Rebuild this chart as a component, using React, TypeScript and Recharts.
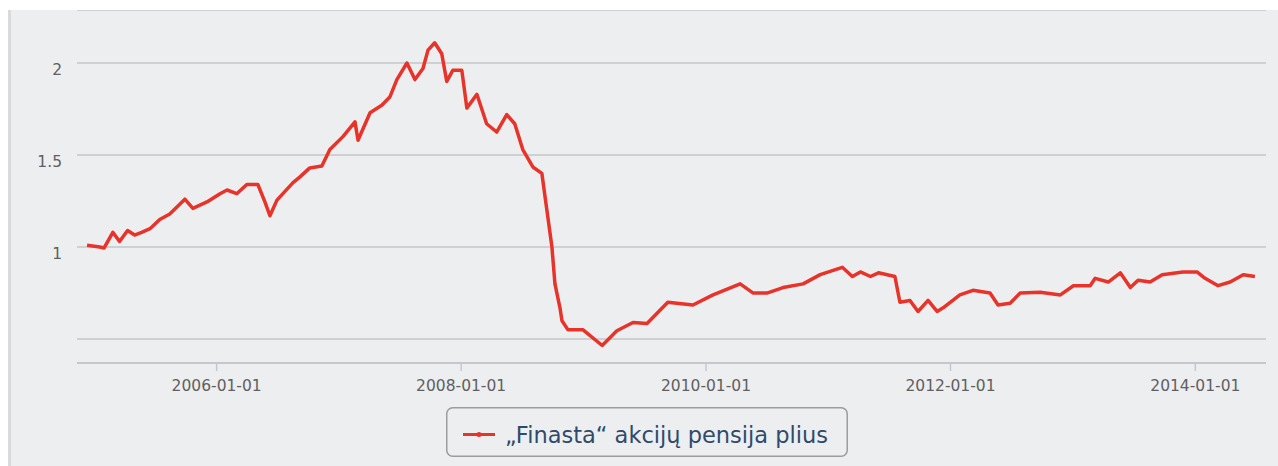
import { LineChart, Line, XAxis, YAxis, CartesianGrid, Legend } from "recharts";

const RED = "#e8332a";
const GRID = "#cfd0d2";
const AXIS_LINE = "#c4c8ce";
const LABEL = "#606060";
const FONT = "DejaVu Sans, Verdana, sans-serif";

const SERIES_NAME = "„Finasta“ akcijų pensija plius";

const DATES = [
  "2004-12-10", "2005-01-17", "2005-01-30", "2005-02-25", "2005-03-17", "2005-04-10",
  "2005-05-01", "2005-05-22", "2005-06-16", "2005-07-15", "2005-08-14", "2005-09-28",
  "2005-10-22", "2005-12-03", "2006-01-11", "2006-02-01", "2006-03-02", "2006-04-01",
  "2006-05-04", "2006-05-25", "2006-06-09", "2006-06-30", "2006-08-17", "2006-09-06",
  "2006-10-06", "2006-11-11", "2006-12-05", "2007-01-13", "2007-02-18", "2007-02-27",
  "2007-04-04", "2007-05-09", "2007-06-02", "2007-06-23", "2007-07-23", "2007-08-16",
  "2007-09-09", "2007-09-24", "2007-10-14", "2007-11-04", "2007-11-19", "2007-12-07",
  "2008-01-03", "2008-01-18", "2008-02-17", "2008-03-17", "2008-04-16", "2008-05-16",
  "2008-06-09", "2008-07-03", "2008-08-02", "2008-08-29", "2008-09-13", "2008-09-28",
  "2008-10-07", "2008-10-22", "2008-10-28", "2008-11-15", "2008-12-30", "2009-02-25",
  "2009-04-10", "2009-05-28", "2009-07-09", "2009-09-09", "2009-11-23", "2010-01-22",
  "2010-04-13", "2010-05-22", "2010-07-02", "2010-08-19", "2010-10-18", "2010-12-08",
  "2011-02-12", "2011-03-14", "2011-04-07", "2011-05-07", "2011-05-31", "2011-07-19",
  "2011-08-03", "2011-09-02", "2011-09-26", "2011-10-26", "2011-11-22", "2011-12-10",
  "2012-01-29", "2012-03-08", "2012-04-28", "2012-05-22", "2012-06-27", "2012-07-27",
  "2012-09-25", "2012-11-24", "2013-01-02", "2013-02-21", "2013-03-08", "2013-04-16",
  "2013-05-22", "2013-06-21", "2013-07-14", "2013-08-19", "2013-09-24", "2013-11-25",
  "2014-01-06", "2014-01-30", "2014-03-10", "2014-04-15", "2014-05-24", "2014-06-28",
];

const VALUES = [
  1.01, 1.0, 0.995, 1.08, 1.03, 1.09,
  1.065, 1.08, 1.1, 1.15, 1.18, 1.26,
  1.21, 1.245, 1.29, 1.31, 1.29, 1.34,
  1.34, 1.245, 1.17, 1.255, 1.35, 1.38,
  1.43, 1.44, 1.53, 1.6, 1.68, 1.58,
  1.73, 1.77, 1.815, 1.91, 2.0, 1.91,
  1.97, 2.07, 2.11, 2.05, 1.9, 1.96,
  1.96, 1.755, 1.83, 1.67, 1.625, 1.72,
  1.67, 1.53, 1.435, 1.4, 1.2, 1.0,
  0.8, 0.67, 0.6, 0.55, 0.55, 0.465,
  0.545, 0.59, 0.585, 0.7, 0.685, 0.74,
  0.8, 0.75, 0.75, 0.78, 0.8, 0.85,
  0.89, 0.84, 0.865, 0.84, 0.86, 0.84,
  0.7, 0.71, 0.65, 0.71, 0.65, 0.67,
  0.74, 0.765, 0.75, 0.685, 0.695, 0.75,
  0.755, 0.74, 0.79, 0.79, 0.83, 0.81,
  0.86, 0.78, 0.82, 0.81, 0.85, 0.865,
  0.865, 0.83, 0.79, 0.81, 0.85, 0.84,
];

const X_TICKS = ["2006-01-01", "2008-01-01", "2010-01-01", "2012-01-01", "2014-01-01"];
const X_DOMAIN = ["2004-11-10", "2014-07-31"];
const Y_TICKS = [0.5, 1, 1.5, 2];
const Y_DOMAIN = [0.37, 2.288];

const toTime = (d: string) => Date.parse(d + "T00:00:00Z");
const fmtDate = (t: number) => new Date(t).toISOString().slice(0, 10);

const data = DATES.map((d, i) => ({ t: toTime(d), v: VALUES[i] }));

function YTick({ x, y, payload }: any) {
  if (payload.value === 0.5) return null;
  return (
    <text x={x} y={y + 12} textAnchor="end" fill={LABEL} fontSize={15.5} fontFamily={FONT}>
      {payload.value}
    </text>
  );
}

function XTick({ x, y, payload }: any) {
  return (
    <text x={x} y={y + 19.5} textAnchor="middle" fill={LABEL} fontSize={15.5} fontFamily={FONT}>
      {fmtDate(payload.value)}
    </text>
  );
}

function LegendBox() {
  return (
    <div style={{ height: 50, paddingLeft: 435 }}>
      <svg width={402} height={50} style={{ display: "block" }}>
        <rect x={0.75} y={0.75} width={400.5} height={48.5} rx={6} fill="none" stroke="#9c9c9c" strokeWidth={1.5} />
        <line x1={17} x2={49} y1={27.5} y2={27.5} stroke={RED} strokeWidth={3} />
        <circle cx={33} cy={27.5} r={2.5} fill={RED} />
        <text x={59} y={36} fontSize={22.5} fontFamily={FONT} fill="#2f4b6b">
          {SERIES_NAME}
        </text>
      </svg>
    </div>
  );
}

export default function App() {
  return (
    <div style={{ position: "relative", width: 1278, height: 466, background: "#fff", overflow: "hidden" }}>
      <style>{"body{margin:0}"}</style>
      <div
        style={{
          position: "absolute",
          left: 8,
          top: 10,
          width: 1270,
          height: 456,
          background: "#edeef0",
          borderLeft: "3px solid #d9dadc",
          boxSizing: "border-box",
        }}
      >
        <LineChart width={1267} height={456} data={data} margin={{ top: 0, right: 12, bottom: 9, left: 0 }}>
          <CartesianGrid vertical={false} stroke={GRID} strokeWidth={2} />
          <XAxis
            dataKey="t"
            type="number"
            domain={X_DOMAIN.map(toTime)}
            ticks={X_TICKS.map(toTime)}
            allowDataOverflow
            height={44}
            tickSize={8}
            tickMargin={0}
            tickLine={{ stroke: AXIS_LINE, strokeWidth: 1.5 }}
            axisLine={{ stroke: AXIS_LINE, strokeWidth: 2 }}
            tick={<XTick />}
            interval={0}
          />
          <YAxis
            type="number"
            domain={Y_DOMAIN}
            ticks={Y_TICKS}
            allowDataOverflow
            width={66}
            tickSize={0}
            tickMargin={15}
            tickLine={false}
            axisLine={false}
            tick={<YTick />}
            interval={0}
          />
          <Legend verticalAlign="bottom" content={<LegendBox />} />
          <Line
            type="linear"
            dataKey="v"
            name={SERIES_NAME}
            stroke={RED}
            strokeWidth={3.5}
            strokeLinejoin="round"
            dot={false}
            isAnimationActive={false}
          />
        </LineChart>
      </div>
    </div>
  );
}
